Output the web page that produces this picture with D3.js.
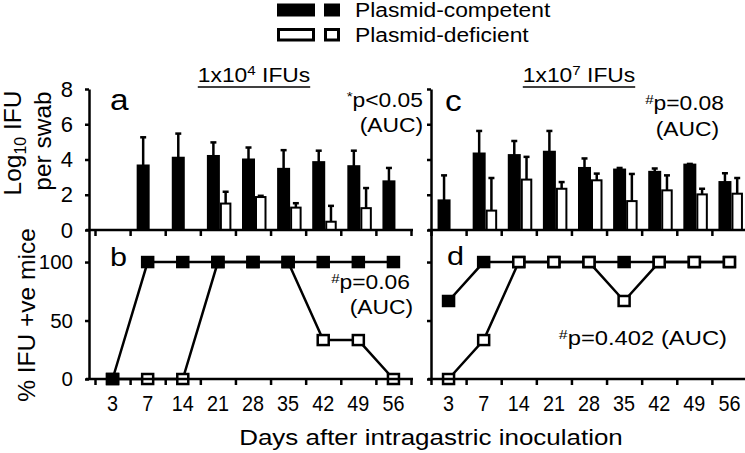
<!DOCTYPE html>
<html>
<head>
<meta charset="utf-8">
<script src="https://cdn.jsdelivr.net/npm/d3@7"></script>
<style>
  body { margin: 0; background: #fff; }
  svg { display: block; font-family: "Liberation Sans", Arial, sans-serif; }
</style>
</head>
<body>
<div id="chart"></div>
<script>
// days after inoculation (x categories, shared by all panels)
const days = ["3", "7", "14", "21", "28", "35", "42", "49", "56"];

// panel a : 1x10^4 IFUs, log10 IFU per swab (mean, upper error)
const aCompMean = [null, 3.66, 4.1, 4.2, 4.0, 3.47, 3.85, 3.62, 2.76];
const aCompErr  = [null, 1.6, 1.37, 0.77, 0.68, 1.06, 0.65, 0.88, 0.76];
const aDefMean  = [null, null, null, 1.5, 1.87, 1.27, 0.47, 1.24, null];
const aDefErr   = [null, null, null, 0.67, 0.07, 0.25, 0.9, 1.14, null];

// panel c : 1x10^7 IFUs
const cCompMean = [1.68, 4.34, 4.25, 4.44, 3.52, 3.43, 3.3, 3.71, 2.72];
const cCompErr  = [1.42, 1.28, 0.8, 1.18, 0.54, 0.09, 0.19, 0.04, 0.5];
const cDefMean  = [null, 1.1, 2.86, 2.34, 2.82, 1.64, 2.25, 2.02, 2.06];
const cDefErr   = [null, 1.85, 1.29, 0.38, 0.38, 1.54, 0.85, 0.32, 0.89];

// panel b / d : % IFU positive mice
const bComp = [0, 100, 100, 100, 100, 100, 100, 100, 100];
const bDef  = [0, 0, 0, 100, 100, 100, 33.3, 33.3, 0];
const dComp = [66.7, 100, 100, 100, 100, 100, 100, 100, 100];
const dDef  = [0, 33.3, 100, 100, 100, 66.7, 100, 100, 100];

const topTicks = [0, 2, 4, 6, 8];
const botTicks = [0, 50, 100];

const W = 745, H = 453;
const svg = d3.select("#chart").append("svg")
  .attr("width", W).attr("height", H);

const xL = d3.scaleBand().domain(days).range([95, 411]);
const xR = d3.scaleBand().domain(days).range([431, 747]);
const yTop = d3.scaleLinear().domain([0, 8]).range([230, 89]);
const yBot = d3.scaleLinear().domain([0, 127.4]).range([379, 230]);

// text helper: the figure's horizontal text is a bit wide, so stretch it in x
function label(g, x, y, parts, opt) {
  const o = Object.assign({ size: 19.5, sx: 1.17, anchor: "start" }, opt);
  const t = g.append("text")
    .attr("transform", `translate(${x},${y}) scale(${o.sx},1)`)
    .attr("font-size", o.size)
    .attr("text-anchor", o.anchor)
    .attr("fill", "#000");
  parts.forEach(p => {
    if (typeof p === "string") t.append("tspan").text(p);
    else t.append("tspan").attr("font-size", p.size).attr("dy", p.dy).text(p.t);
  });
  return t;
}

function styleAxis(g, size) {
  g.selectAll("path, line").attr("stroke", "#000").attr("stroke-width", 2.5);
  g.attr("font-family", null).attr("font-size", size || 20);
  g.selectAll("text").attr("fill", "#000");
}

function drawAxes(x, axX, xEnd, showLabels) {
  // top panel y axis
  svg.append("g").attr("transform", `translate(${axX},0)`)
    .call(d3.axisLeft(yTop).tickValues(topTicks).tickSize(4).tickPadding(12)
      .tickSizeOuter(0).tickFormat(showLabels ? d3.format("d") : ""))
    .call(g => styleAxis(g, 22));
  // bottom panel y axis
  svg.append("g").attr("transform", `translate(${axX},0)`)
    .call(d3.axisLeft(yBot).tickValues(botTicks).tickSize(4).tickPadding(12)
      .tickSizeOuter(0).tickFormat(showLabels ? d3.format("d") : ""))
    .call(g => styleAxis(g, 20.5));

  // category boundaries for tick marks
  const idx = d3.scaleLinear().domain([0, days.length]).range(x.range());
  [230, 379].forEach(yy => {
    const g = svg.append("g").attr("transform", `translate(0,${yy})`)
      .call(d3.axisBottom(idx).tickValues(d3.range(days.length + 1))
        .tickSize(6).tickSizeOuter(0).tickFormat(""));
    g.select(".domain").remove();
    g.append("line").attr("x1", axX - 3).attr("x2", xEnd);
    styleAxis(g);
  });

  // day labels (narrow, tall digits)
  const lab = svg.append("g").attr("transform", "translate(0,379)")
    .call(d3.axisBottom(x).tickSize(0).tickPadding(16));
  lab.select(".domain").remove();
  styleAxis(lab, 22);
  lab.selectAll("text").attr("transform", "scale(0.9,1)");
}

function drawBars(x, compMean, compErr, defMean, defErr) {
  const g = svg.append("g");
  const series = [
    { mean: compMean, err: compErr, fill: "#000", off: -10, w: 11 },
    { mean: defMean, err: defErr, fill: "#fff", off: 3, w: 9.5 }
  ];
  series.forEach(s => {
    const rows = days.map((d, i) => ({ d, m: s.mean[i], e: s.err[i] }))
      .filter(r => r.m != null);
    const cx = r => x(r.d) + x.bandwidth() / 2 + s.off;
    // error bars (upper only)
    g.selectAll(null).data(rows).enter().append("line")
      .attr("x1", r => cx(r) + s.w / 2).attr("x2", r => cx(r) + s.w / 2)
      .attr("y1", r => yTop(r.m)).attr("y2", r => yTop(r.m + r.e))
      .attr("stroke", "#000").attr("stroke-width", 2.5);
    g.selectAll(null).data(rows).enter().append("line")
      .attr("x1", r => cx(r) + s.w / 2 - 3).attr("x2", r => cx(r) + s.w / 2 + 3)
      .attr("y1", r => yTop(r.m + r.e)).attr("y2", r => yTop(r.m + r.e))
      .attr("stroke", "#000").attr("stroke-width", 2.5);
    g.selectAll(null).data(rows).enter().append("rect")
      .attr("x", cx).attr("width", s.w)
      .attr("y", r => yTop(r.m)).attr("height", r => yTop(0) - yTop(r.m))
      .attr("fill", s.fill).attr("stroke", "#000").attr("stroke-width", 2);
  });
}

function drawLines(x, comp, def, order) {
  const g = svg.append("g");
  const line = d3.line()
    .x((v, i) => x(days[i]) + x.bandwidth() / 2)
    .y(v => yBot(v));
  const series = { comp: { v: comp, fill: "#000" }, def: { v: def, fill: "#fff" } };
  order.forEach(k => {
    g.append("path").attr("d", line(series[k].v))
      .attr("fill", "none").attr("stroke", "#000").attr("stroke-width", 2.5);
  });
  order.forEach(k => {
    g.selectAll(null).data(series[k].v).enter().append("rect")
      .attr("x", (v, i) => x(days[i]) + x.bandwidth() / 2 - 5.5)
      .attr("y", v => yBot(v) - 5)
      .attr("width", 11).attr("height", 10)
      .attr("fill", series[k].fill).attr("stroke", "#000").attr("stroke-width", 2.5);
  });
}

drawBars(xL, aCompMean, aCompErr, aDefMean, aDefErr);
drawBars(xR, cCompMean, cCompErr, cDefMean, cDefErr);
drawLines(xL, bComp, bDef, ["def", "comp"]);
drawLines(xR, dComp, dDef, ["comp", "def"]);
drawAxes(xL, 89, 413, true);
drawAxes(xR, 431, 747, false);

// legend
const leg = svg.append("g");
leg.append("rect").attr("x", 277).attr("y", 3.5).attr("width", 38).attr("height", 13).attr("fill", "#000");
leg.append("rect").attr("x", 324).attr("y", 3.5).attr("width", 16).attr("height", 13).attr("fill", "#000");
leg.append("rect").attr("x", 278.5).attr("y", 29.5).attr("width", 35).attr("height", 10.5)
  .attr("fill", "#fff").attr("stroke", "#000").attr("stroke-width", 3);
leg.append("rect").attr("x", 325.5).attr("y", 29.5).attr("width", 13).attr("height", 10.5)
  .attr("fill", "#fff").attr("stroke", "#000").attr("stroke-width", 3);
label(leg, 355, 17, ["Plasmid-competent"]);
label(leg, 355, 42, ["Plasmid-deficient"]);

// panel titles, underlined
[[254, "4"], [579, "7"]].forEach(([cx, exp]) => {
  const t = label(svg, cx, 82, ["1x10", { t: exp, size: 13, dy: -7 }, { t: " IFUs", dy: 7 }],
    { anchor: "middle" });
  const w = t.node().getBBox().width * 1.17;
  svg.append("line").attr("x1", cx - w / 2).attr("x2", cx + w / 2)
    .attr("y1", 87).attr("y2", 87).attr("stroke", "#000").attr("stroke-width", 1.5);
});

// panel letters
label(svg, 110, 110, ["a"], { size: 29, sx: 1.15 });
label(svg, 445, 111, ["c"], { size: 29, sx: 1.15 });
label(svg, 110, 266, ["b"], { size: 25.5, sx: 1.2 });
label(svg, 447, 265, ["d"], { size: 25.5, sx: 1.2 });

// statistics
label(svg, 423, 107, [{ t: "*", size: 13, dy: -6 }, { t: "p<0.05", dy: 6 }], { anchor: "end" });
label(svg, 423, 132, ["(AUC)"], { anchor: "end" });
label(svg, 724, 110, [{ t: "#", size: 13, dy: -6 }, { t: "p=0.08", dy: 6 }], { anchor: "end" });
label(svg, 719, 136, ["(AUC)"], { anchor: "end" });
label(svg, 410, 289, [{ t: "#", size: 13, dy: -6 }, { t: "p=0.06", dy: 6 }], { anchor: "end" });
label(svg, 413, 314, ["(AUC)"], { anchor: "end" });
label(svg, 727, 345, [{ t: "#", size: 13, dy: -6 }, { t: "p=0.402 (AUC)", dy: 6 }], { anchor: "end", sx: 1.22 });

// axis titles
label(svg, 431, 445, ["Days after intragastric inoculation"], { size: 22, sx: 1.18, anchor: "middle" });

const yl = (x, y, parts) => {
  const t = svg.append("text")
    .attr("transform", `translate(${x},${y}) rotate(-90)`)
    .attr("font-size", 24.5).attr("text-anchor", "middle").attr("fill", "#000");
  parts.forEach(p => {
    if (typeof p === "string") t.append("tspan").text(p);
    else t.append("tspan").attr("font-size", p.size).attr("dy", p.dy).text(p.t);
  });
};
yl(21, 143, ["Log", { t: "10", size: 16, dy: 5 }, { t: " IFU", dy: -5 }]);
yl(51, 141, ["per swab"]);
yl(35, 315, ["% IFU +ve mice"]);
</script>
</body>
</html>
